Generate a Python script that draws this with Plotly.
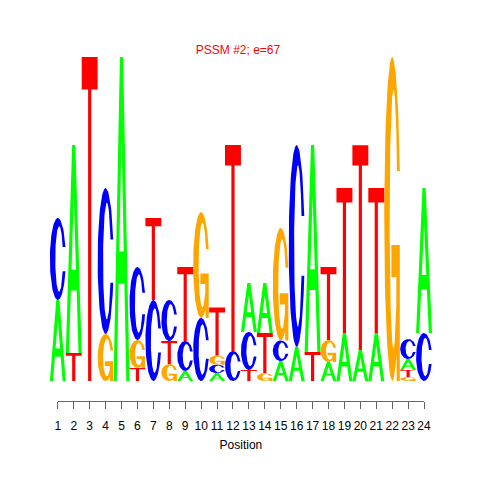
import numpy as np
import plotly.graph_objects as go

# ---------------- data (letter heights in bits) ----------------
positions = list(range(1, 25))
tick_labels = [str(p) for p in positions]
bases = ["A", "C", "G", "T"]
height_A = [0.500, 1.284, 0, 0, 2.0, 0, 0, 0, 0.062, 0, 0.049, 0, 0.302, 0.309, 0.123, 0.210,
            1.278, 0.117, 0.296, 0.191, 0.296, 0, 0.068, 0.895]
height_C = [0.506, 0, 0, 0.901, 0, 0.451, 0.500, 0.253, 0.185, 0.389, 0.052, 0.185, 0.235, 0,
            0.127, 1.247, 0, 0, 0, 0, 0, 0, 0.123, 0.296]
height_G = [0, 0, 0, 0.290, 0, 0.173, 0, 0.105, 0, 0.654, 0.056, 0, 0, 0.049, 0.694, 0, 0,
            0.136, 0, 0, 0, 2.0, 0.025, 0]
height_T = [0, 0.173, 2.0, 0, 0, 0.080, 0.506, 0.142, 0.457, 0, 0.296, 1.272, 0.068, 0.247, 0, 0,
            0.179, 0.451, 0.895, 1.265, 0.895, 0, 0.043, 0]
title_text = "PSSM #2; e=67"
x_title = "Position"

heights = {"A": height_A, "C": height_C, "G": height_G, "T": height_T}
colors = {"A": "#00FF00", "C": "#0000FF", "G": "#FFA500", "T": "#FF0000"}


# ---------------- glyph outlines in a unit box ----------------
def glyph_A():
    xs = [0, 0.2, 0.32, 0.68, 0.8, 1, 0.6, 0.5, 0.5, 0.64, 0.36, 0.5, 0.5, 0.4, 0]
    ys = [0, 0, 0.3, 0.3, 0, 0, 1, 1, 0.75, 0.4, 0.4, 0.75, 1, 1, 0]
    return np.array(xs, float), np.array(ys, float)


def glyph_T():
    xs = [0, 1, 1, 0.6, 0.6, 0.4, 0.4, 0, 0]
    ys = [1, 1, 0.9, 0.9, 0, 0, 0.9, 0.9, 1]
    return np.array(xs, float), np.array(ys, float)


CUT = 0.148
ICX, IRX, IRY = 0.58, 0.24, 0.40


def glyph_C():
    th0 = np.arcsin(CUT / 0.5)
    t = np.linspace(th0, 2 * np.pi - th0, 90)
    ox, oy = 0.5 + 0.5 * np.cos(t), 0.5 + 0.5 * np.sin(t)
    p0 = np.arcsin(CUT / IRY)
    u = np.linspace(2 * np.pi - p0, p0, 90)
    ix, iy = ICX + IRX * np.cos(u), 0.5 + IRY * np.sin(u)
    return np.concatenate([ox, ix, ox[:1]]), np.concatenate([oy, iy, oy[:1]])


def glyph_G():
    th0 = np.arcsin(CUT / 0.5)
    xs_stem = 0.778
    tend = 2 * np.pi - np.arccos((xs_stem - 0.5) / 0.5)
    t = np.linspace(th0, tend, 90)
    ox, oy = 0.5 + 0.5 * np.cos(t), 0.5 + 0.5 * np.sin(t)
    r1 = 0.978
    xin = 0.76
    u1 = 2 * np.pi - np.arccos((xin - ICX) / IRX)
    yin = 0.5 + IRY * np.sin(u1)
    bx = [xs_stem, r1, r1, 0.45, 0.45, xin, xin]
    by = [0.0, 0.0, 0.42, 0.42, 0.32, 0.32, yin]
    p0 = np.arcsin(CUT / IRY)
    u = np.linspace(u1, p0, 90)
    ix, iy = ICX + IRX * np.cos(u), 0.5 + IRY * np.sin(u)
    return (np.concatenate([ox, bx, ix, ox[:1]]),
            np.concatenate([oy, by, iy, oy[:1]]))


glyphs = {"A": glyph_A(), "C": glyph_C(), "G": glyph_G(), "T": glyph_T()}

# ---------------- build stacked letters ----------------
paths = {b: ([], []) for b in bases}
for i, pos in enumerate(positions):
    col = [(heights[b][i], k, b) for k, b in enumerate(bases) if heights[b][i] > 0]
    col.sort()
    y0 = 0.0
    for h, _, b in col:
        gx, gy = glyphs[b]
        xs, ys = paths[b]
        xs.extend(list(pos - 0.5 + gx) + [None])
        ys.extend(list(y0 + gy * h) + [None])
        y0 += h

fig = go.Figure()
for b in bases:
    xs, ys = paths[b]
    fig.add_trace(go.Scatter(x=xs, y=ys, mode="lines", fill="toself",
                             fillcolor=colors[b], line=dict(width=0, color=colors[b]),
                             hoverinfo="skip", showlegend=False, name=b))

# invisible trace carrying the position axis
fig.add_trace(go.Scatter(x=positions, y=[0] * len(positions), xaxis="x2", yaxis="y",
                         mode="markers", marker=dict(opacity=0), hoverinfo="skip",
                         showlegend=False))

W = 480
tick1_px, tickN_px = 56.0, 430.0
step = (tickN_px - tick1_px) / (len(positions) - 1)
font = "Liberation Sans, Arial, Helvetica, sans-serif"

fig.update_layout(
    width=W, height=W,
    margin=dict(l=0, r=0, t=40, b=79),
    paper_bgcolor="white", plot_bgcolor="rgba(0,0,0,0)",
    font=dict(family=font, color="black"),
    title=dict(text=title_text, x=0.5, xanchor="center", xref="paper",
               y=1 - 50 / W, yanchor="middle", yref="container",
               font=dict(size=12, color="#FF0000", family=font)),
    xaxis=dict(domain=[(tick1_px - step / 2) / W, (tickN_px + step / 2) / W],
               range=[positions[0] - 0.5, positions[-1] + 0.5],
               visible=False, showgrid=False, zeroline=False, fixedrange=True),
    xaxis2=dict(domain=[tick1_px / W, tickN_px / W], anchor="y",
                range=[positions[0], positions[-1]],
                tickmode="array", tickvals=positions, ticktext=tick_labels,
                ticks="outside", ticklen=7, tickwidth=1, tickcolor="#666666",
                ticklabelstandoff=7,
                showline=True, linecolor="#666666", linewidth=1,
                showgrid=False, zeroline=False,
                tickfont=dict(size=12, color="black", family=font),
                title=dict(text=x_title, font=dict(size=12, color="black", family=font),
                           standoff=8)),
    yaxis=dict(range=[-20 / 162, 341 / 162], visible=False, showgrid=False,
               zeroline=False, fixedrange=True),
)

fig.write_html("out.html", config={"displayModeBar": False},
               post_script="document.body.style.margin='0';document.body.style.padding='0';")
